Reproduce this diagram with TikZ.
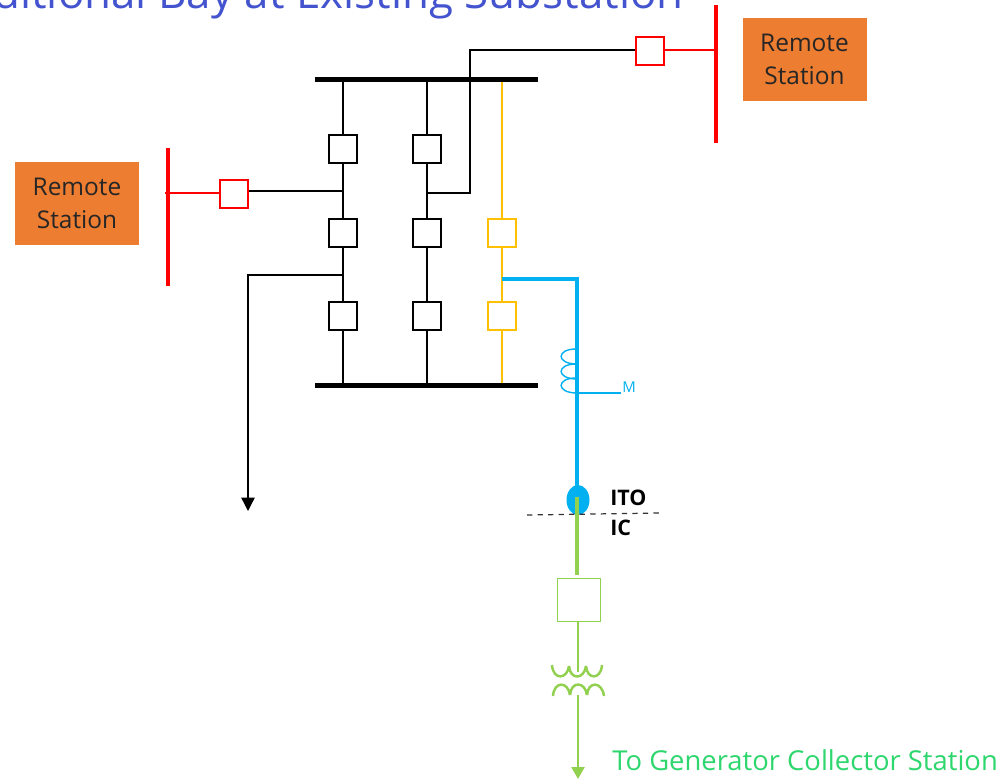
\documentclass[tikz,border=0pt]{standalone}
\usepackage{fontspec}
\setmainfont{Open Sans}
\usepackage{xcolor}
\usetikzlibrary{arrows.meta, positioning, shapes.geometric}
\definecolor{title_blue}{RGB}{68, 84, 206}
\definecolor{sta_orange}{RGB}{237, 125, 49}
\definecolor{yel_bay}{RGB}{255, 192, 0}
\definecolor{blue_bay}{RGB}{0, 176, 240}
\definecolor{grn_bay}{RGB}{146, 208, 80}
\definecolor{grn_text}{RGB}{46, 214, 110}
\tikzset{
  cb/.style={draw, fill=white, minimum size=0.56cm, inner sep=0pt, line width=0.8pt},
  station/.style={fill=sta_orange, minimum width=2.48cm, minimum height=1.68cm, inner sep=0pt, align=center, font=\fontsize{13.9}{18.7}\selectfont, text=black!85},
  lbl/.style={font=\fontsize{12.2}{14}\selectfont\bfseries, text=black},
}
\begin{document}
\begin{tikzpicture}[x=0.02cm, y=-0.02cm]
  \useasboundingbox (0,0) rectangle (1007,778);
  \clip (0,0) rectangle (1007,778);
  \node[anchor=base west, inner sep=0pt, text=title_blue, font=\fontsize{25}{29}\selectfont] (title) at (-7,8) {ditional Bay at Existing Substation};

  % bus bars
  \coordinate (topl) at (315,79.5);
  \coordinate (topr) at (538,79.5);
  \coordinate (botl) at (315,385.5);
  \coordinate (botr) at (538,385.5);
  \coordinate (topa) at (343,79.5);
  \coordinate (topb) at (427,79.5);
  \coordinate (topc) at (502,79.5);
  \coordinate (bota) at (343,385.5);
  \coordinate (botb) at (427,385.5);
  \coordinate (botc) at (502,385.5);

  % breakers
  \node[cb] (a1) at (343,149) {};
  \node[cb] (a2) at (343,233) {};
  \node[cb] (a3) at (343,316) {};
  \node[cb] (b1) at (427,149) {};
  \node[cb] (b2) at (427,233) {};
  \node[cb] (b3) at (427,316) {};
  \node[cb, draw=yel_bay] (c2) at (502,233) {};
  \node[cb, draw=yel_bay] (c3) at (502,316) {};
  \node[cb, draw=red] (lcb) at (234,194) {};
  \node[cb, draw=red] (rcb) at (650,51) {};
  \node[cb, draw=grn_bay, minimum size=0.86cm] (gcb) at (579,600) {};

  % stations
  \node[station] (lsta) at (77,203.5) {Remote\\Station};
  \node[station] (rsta) at (804.5,59.5) {Remote\\Station};
  \coordinate (lbust) at (168,148);
  \coordinate (lbusb) at (168,286);
  \coordinate (rbust) at (716,5);
  \coordinate (rbusb) at (716,143);
  \coordinate (ltap) at (165,193);
  \coordinate (rtap) at (716,50);

  % bay connections
  \coordinate (ja) at (343,191);
  \coordinate (jf) at (343,275);
  \coordinate (jb) at (427,193);
  \coordinate (cor1) at (470,193);
  \coordinate (cor2) at (470,50);
  \coordinate (cor3) at (248,275);
  \coordinate (feed) at (248,511);
  \draw[line width=0.8pt] (topa) -- (a1) -- (a2) -- (a3) -- (bota);
  \draw[line width=0.8pt] (topb) -- (b1) -- (b2) -- (b3) -- (botb);
  \draw[yel_bay, line width=1pt] (topc) -- (c2) -- (c3) -- (botc);
  \draw[line width=0.8pt] (lcb.east |- ja) -- (ja);
  \draw[line width=0.8pt] (jb) -- (cor1) -- (cor2) -- (rcb.west |- cor2);
  \draw[line width=0.8pt, -{Triangle[length=0.27cm, width=0.27cm]}] (jf) -- (cor3) -- (feed);
  \draw[red, line width=0.8pt] (ltap) -- (lcb.west |- ltap);
  \draw[red, line width=0.8pt] (rcb.east |- rtap) -- (rtap);
  \draw[line width=2.8pt] (topl) -- (topr);
  \draw[line width=2.8pt] (botl) -- (botr);
  \draw[red, line width=2.8pt] (lbust) -- (lbusb);
  \draw[red, line width=2.8pt] (rbust) -- (rbusb);

  % collector bay
  \node[ellipse, fill=blue_bay, minimum width=0.46cm, minimum height=0.6cm, inner sep=0pt] (ito) at (578,500) {};
  \coordinate (jc) at (502,279);
  \coordinate (cor4) at (577,279);
  \coordinate (jm) at (577,393);
  \coordinate (mend) at (621,393);
  \node[anchor=west, inner sep=0pt, text=blue_bay, font=\fontsize{8.5}{10}\selectfont] (mlab) at (622,387) {M};
  \draw[blue_bay, line width=2pt] (jc) -- (cor4) -- (ito.center -| cor4);
  \draw[blue_bay, line width=0.8pt] (jm) -- (mend);
  \draw[blue_bay, line width=0.8pt] (576,349) .. controls (556,349) and (556,364) .. (577,364);
  \draw[blue_bay, line width=0.8pt] (576,364) .. controls (556,364) and (556,379) .. (577,379);
  \draw[blue_bay, line width=0.8pt] (576,378) .. controls (556,378) and (556,393) .. (577,393);

  % ITO / IC boundary
  \coordinate (sepl) at (527,515);
  \coordinate (sepr) at (660,513);
  \node[lbl, anchor=west, inner sep=0pt] (itolab) at (610,498) {ITO};
  \node[lbl, anchor=west, inner sep=0pt] (iclab) at (610,528) {IC};

  % generator side
  \coordinate (gtop) at (577,497);
  \coordinate (gstub) at (577,575);
  \coordinate (tx1) at (578,672);
  \coordinate (tx2) at (578,695);
  \coordinate (gend) at (578,779);
  \draw[black!80, dashed, line width=0.7pt] (sepl) -- (sepr);
  \draw[grn_bay, line width=2pt] (gtop) -- (gstub);
  \draw[grn_bay, line width=1.5pt] (gcb.south -| tx1) -- (tx1);
  \draw[grn_bay, line width=1.5pt, -{Triangle[length=0.24cm, width=0.26cm]}] (tx2) -- (gend);
  \draw[grn_bay, line width=1.4pt] (552,665) .. controls (553,680) and (567,680) .. (569,666);
  \draw[grn_bay, line width=1.4pt] (569,666) .. controls (570,680) and (584,680) .. (586,666);
  \draw[grn_bay, line width=1.4pt] (586,666) .. controls (587,680) and (601,680) .. (602,665);
  \draw[grn_bay, line width=1.4pt] (553,696) .. controls (554,681) and (568,681) .. (570,695);
  \draw[grn_bay, line width=1.4pt] (570,695) .. controls (571,681) and (585,681) .. (587,695);
  \draw[grn_bay, line width=1.4pt] (587,695) .. controls (588,681) and (602,681) .. (604,696);
  \node[anchor=west, inner sep=0pt, text=grn_text, font=\fontsize{15.6}{18}\selectfont] (glab) at (612,760) {To Generator Collector Station};
\end{tikzpicture}
\end{document}
